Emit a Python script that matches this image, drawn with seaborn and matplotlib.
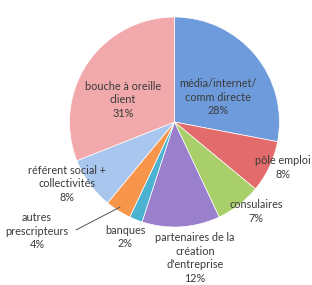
import matplotlib
matplotlib.use("Agg")
import matplotlib.pyplot as plt
import seaborn as sns

categories = ["média/internet/\ncomm directe", "pôle emploi", "consulaires",
              "partenaires de la\ncréation\nd'entreprise", "banques",
              "autres\nprescripteurs", "référent social +\ncollectivités",
              "bouche à oreille\nclient"]
values = [28, 8, 7, 12, 2, 4, 8, 31]
colors = ["#6E9BDB", "#E36B6B", "#A8CF6A", "#9A80CC", "#4BB2D2",
          "#F7964A", "#A9C6EE", "#F2A9AB"]
# label anchor positions (text placement, in pie-radius units)
label_pos = [(0.414, 0.238), (1.03, -0.43), (0.776, -0.85), (0.195, -1.295),
             (-0.471, -1.095), (-1.31, -1.038), (-1.02, -0.59), (-0.49, 0.21)]

sns.set_theme(style="white")
plt.rcParams['font.family'] = ['Liberation Sans Narrow', 'Lato', 'DejaVu Sans']

fig = plt.figure(figsize=(3.12, 2.85), dpi=100)
ax = fig.add_axes([0, 0, 1, 1])
ax.pie(values, colors=colors, startangle=90, counterclock=False, radius=1.0,
       wedgeprops=dict(linewidth=0.5, edgecolor="white"))
ax.set_xlim(-1.662, 1.310)
ax.set_ylim(-1.552, 1.162)
ax.set_aspect("auto")
ax.axis("off")

for cat, v, (x, y) in zip(categories, values, label_pos):
    ax.text(x, y, f"{cat}\n{v}%", ha="center", va="center", fontsize=7.8,
            color="#3a3a3a", linespacing=1.32)

# leader line for "autres prescripteurs"
ax.plot([-0.938, -0.519], [-1.028, -0.81], color="#555555", lw=0.7)

fig.savefig("out.png", dpi=100)
